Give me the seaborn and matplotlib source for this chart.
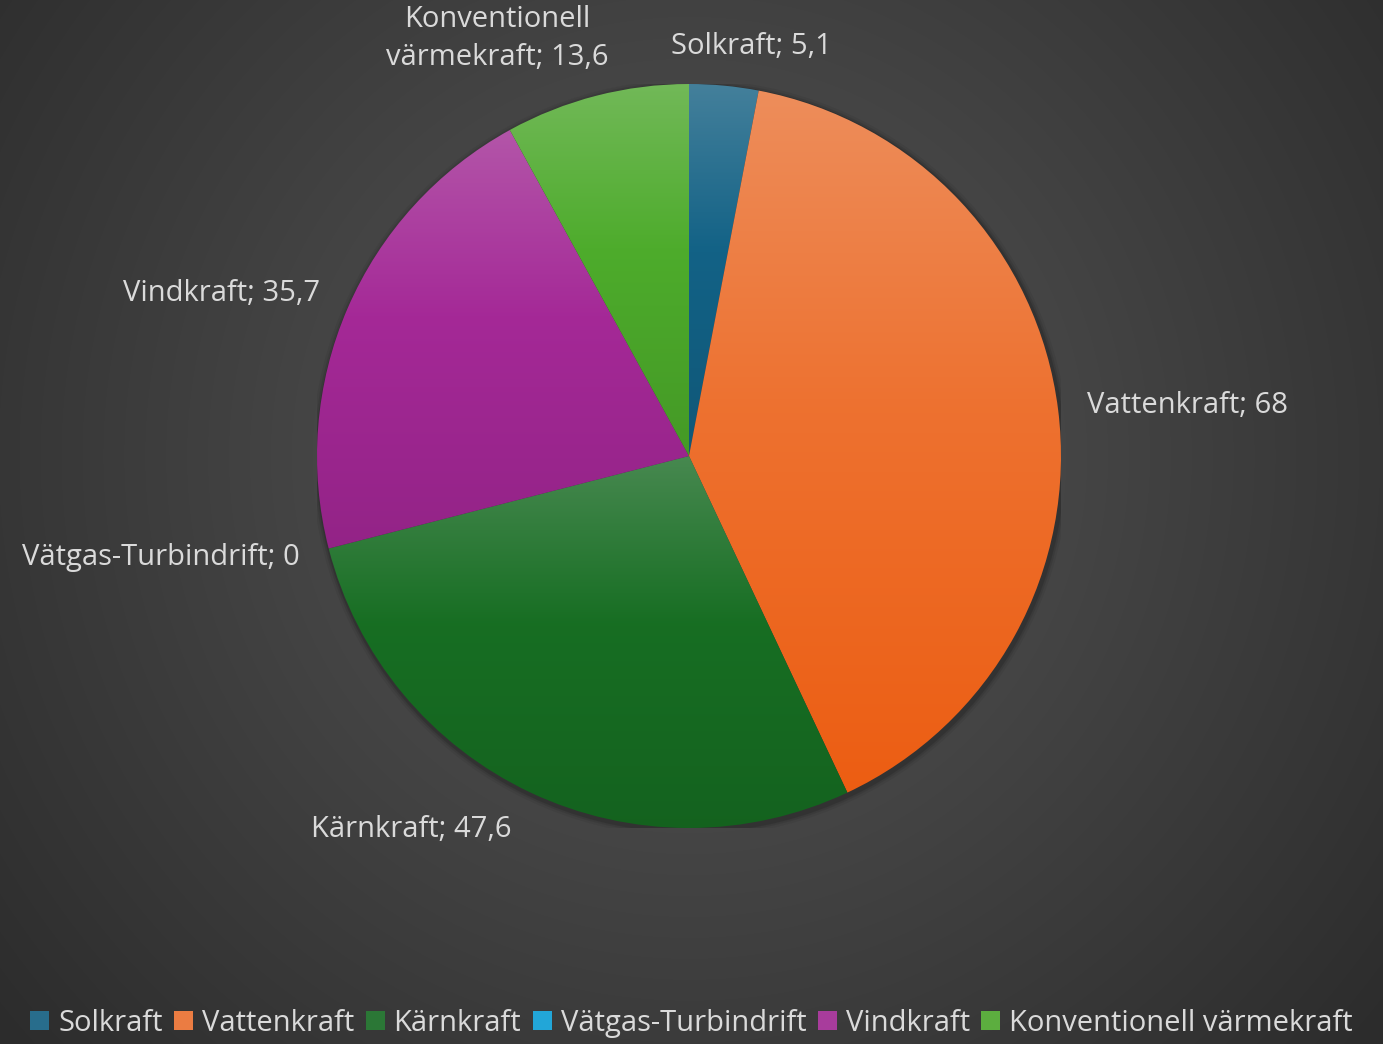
import colorsys
import numpy as np
import matplotlib
matplotlib.use("Agg")
import matplotlib.pyplot as plt
import matplotlib.colors as mcolors
from matplotlib.patches import Patch, Circle
import seaborn as sns

categories = ["Solkraft", "Vattenkraft", "Kärnkraft", "Vätgas-Turbindrift", "Vindkraft", "Konventionell värmekraft"]
values = [5.1, 68, 47.6, 0, 35.7, 13.6]
value_labels = ["5,1", "68", "47,6", "0", "35,7", "13,6"]
label_texts = ["Solkraft", "Vattenkraft", "Kärnkraft", "Vätgas-Turbindrift", "Vindkraft", "Konventionell\nvärmekraft"]
base_colors = ["#156082", "#E97132", "#196B24", "#0F9ED5", "#A02B93", "#4EA72E"]

sns.set_theme(style="dark")
plt.rcParams['font.family'] = ['Open Sans', 'DejaVu Sans']
TXT = "#dadada"

W, H = 1383, 1044
fig = plt.figure(figsize=(W / 100, H / 100), dpi=100)

# radial background
bg = fig.add_axes([0, 0, 1, 1])
bg.set_axis_off()
yy, xx = np.mgrid[0:H, 0:W]
d = np.sqrt((xx - 689) ** 2 + (yy - 456) ** 2) / 900.0
d = np.clip(d, 0, 1)
c0 = np.array([0x57, 0x57, 0x57]) / 255
c1 = np.array([0x2c, 0x2c, 0x2c]) / 255
img = c0[None, None, :] * (1 - d[..., None]) + c1[None, None, :] * d[..., None]
bg.imshow(img, extent=(0, 1, 0, 1), aspect="auto", origin="upper")
bg.set_xlim(0, 1); bg.set_ylim(0, 1)

cx, cy, R = 689, 456, 372
ax = fig.add_axes([(cx - R) / W, (H - cy - R) / H, 2 * R / W, 2 * R / H])
ax.set_axis_off()

# soft shadow behind the pie
for k, a in zip([0.018, 0.012, 0.007], [0.06, 0.08, 0.12]):
    ax.add_patch(Circle((0.004, -0.006), 1 + k, facecolor="black", alpha=a, edgecolor="none", zorder=0))

palette = sns.color_palette(base_colors)
wedges, _ = ax.pie(values, colors=palette, startangle=90, counterclock=False,
                   radius=1, wedgeprops=dict(linewidth=0))

def mix(c, t, a):
    c = np.array(mcolors.to_rgb(c)); t = np.array(t)
    return c * (1 - a) + t * a

def hls_adj(c, lf, sf):
    h, l, s = colorsys.rgb_to_hls(*mcolors.to_rgb(c))
    return np.array(colorsys.hls_to_rgb(h, min(1, l * lf), min(1, s * sf)))

for w, col in zip(wedges, base_colors):
    w.set_facecolor("none")
    path = w.get_path()
    bb = path.get_extents()
    if bb.height <= 0:
        continue
    top = mix(col, (1, 1, 1), 0.2)
    mid = hls_adj(col, 1.01, 1.05)
    bot = hls_adj(col, 0.9, 1.06)
    n = 256
    t = np.linspace(0, 1, n)
    stops_t = [0, 0.45, 1]
    grad = np.stack([np.interp(t, stops_t, [top[i], mid[i], bot[i]]) for i in range(3)], axis=-1)
    grad = np.repeat(grad[:, None, :], 2, axis=1)
    im = ax.imshow(grad, extent=(bb.x0, bb.x1, bb.y0, bb.y1), aspect="auto",
                   origin="upper", zorder=1, interpolation="bilinear")
    im.set_clip_path(w)
ax.set_xlim(-1, 1); ax.set_ylim(-1, 1)
ax.set_aspect("equal")

# label layout (radius units, alignment)
label_pos = [(0.167, 1.10, "center"), (1.07, 0.137, "left"), (-0.747, -1.005, "center"),
             (-1.046, -0.274, "right"), (-0.992, 0.438, "right"), (-0.516, 1.122, "center")]
for txt, v, (lx, ly, ha) in zip(label_texts, value_labels, label_pos):
    ax.text(lx, ly, f"{txt}; {v}", ha=ha, va="center", color=TXT, fontsize=21,
            linespacing=1.4, clip_on=False, multialignment="center")

handles = [Patch(facecolor=mix(c, (1, 1, 1), 0.08), edgecolor="none") for c in base_colors]
leg = fig.legend(handles, categories, loc="lower center", ncol=6, frameon=False,
                 bbox_to_anchor=(0.5, -0.019), fontsize=21, handlelength=0.65, handleheight=0.65,
                 handletextpad=0.3, columnspacing=0.4, labelcolor=TXT)

fig.savefig("out.png", dpi=100)
